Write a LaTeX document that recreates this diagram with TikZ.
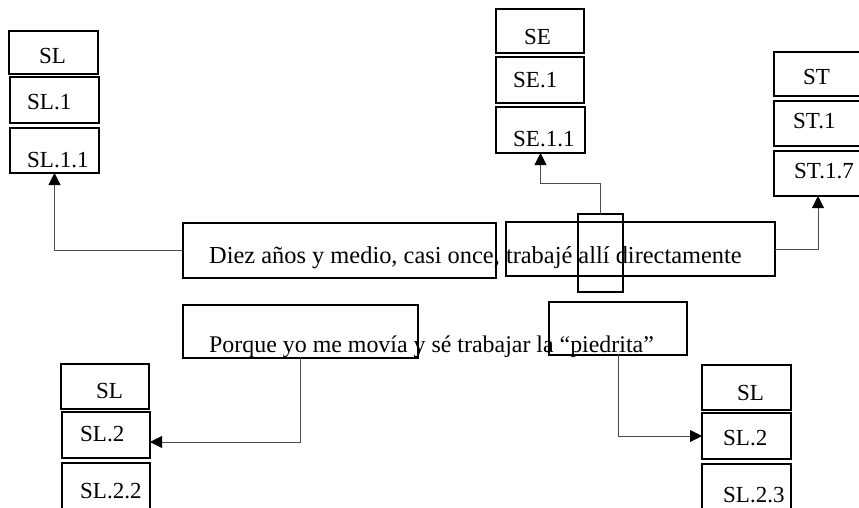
\documentclass[tikz,border=0pt]{standalone}
\usepackage{fontspec}
\setmainfont{Liberation Serif}
\usetikzlibrary{arrows.meta}
\newcommand\bx[5]{\node[box, minimum width={#4-#2}, minimum height={#5-#3}] (#1) at ({(#2+#4)/2},{(#3+#5)/2}) {};}
\newcommand\lb[4]{\node[lbl] (#1) at (#2,#3) {#4};}
\begin{document}
\begin{tikzpicture}[x=1pt,y=-1pt,
  box/.style={draw, line width=1.7pt, inner sep=0pt, outer sep=0pt},
  lbl/.style={anchor=base west, inner sep=0pt, font=\fontsize{23}{27}\selectfont},
  sent/.style={anchor=base west, inner sep=0pt, font=\fontsize{24.4}{29}\selectfont},
  conn/.style={draw=black!70, line width=0.9pt, -{Triangle[length=12pt,width=12pt,color=black]}}]
\clip (0,0) rectangle (859,507);
\fill[white] (0,0) rectangle (859,507);
% top-left stack
\bx{sla}{9}{31}{98}{74}
\bx{slb}{10}{77}{99}{123}
\bx{slc}{10}{128}{99}{173}
\lb{tsla}{39}{63}{SL}
\lb{tslb}{27}{109}{SL.1}
\lb{tslc}{27}{167}{SL.1.1}
% top-middle stack
\bx{sea}{496}{9}{584}{53}
\bx{seb}{496}{57}{584}{103}
\bx{sec}{496}{107}{585}{153}
\lb{tsea}{524}{44}{SE}
\lb{tseb}{513}{87}{SE.1}
\lb{tsec}{513}{146}{SE.1.1}
% top-right stack
\bx{sta}{774}{52}{862}{96}
\bx{stb}{774}{101}{862}{146}
\bx{stc}{774}{151}{862}{196}
\lb{tsta}{803}{84}{ST}
\lb{tstb}{793}{128}{ST.1}
\lb{tstc}{794}{178}{ST.1.7}
% middle sentence
\bx{ma}{183}{223}{496}{278}
\bx{mb}{506}{222}{775}{276}
\bx{tall}{578}{214}{623}{292}
\node[sent] (msent) at (209,263) {Diez años y medio, casi once, trabajé allí directamente};
% bottom sentence
\bx{ba}{183}{305}{418}{358}
\bx{bb}{549}{302}{687}{355}
\node[sent, font=\fontsize{23.9}{29}\selectfont] (bsent) at (209,352) {Porque yo me movía y sé trabajar la “piedrita”};
% bottom-left stack
\bx{lla}{61}{364}{149}{409}
\bx{llb}{62}{412}{150}{458}
\bx{llc}{62}{463}{150}{520}
\lb{tlla}{96}{398}{SL}
\lb{tllb}{80}{441}{SL.2}
\lb{tllc}{80}{498}{SL.2.2}
% bottom-right stack
\bx{rra}{702}{365}{791}{410}
\bx{rrb}{702}{413}{791}{459}
\bx{rrc}{702}{464}{791}{520}
\lb{trra}{737}{400}{SL}
\lb{trrb}{723}{445}{SL.2}
\lb{trrc}{723}{502}{SL.2.3}
% connectors
\draw[conn] (ma.west) -| (slc.south);
\draw[conn] (tall.north) -- ++(0,-31) -| (sec.south);
\draw[conn] (mb.east) -| (stc.south);
\draw[conn] (ba.south) |- ([yshift=-7pt]llb.east);
\draw[conn] (bb.south) |- (rrb.west);
\end{tikzpicture}
\end{document}
